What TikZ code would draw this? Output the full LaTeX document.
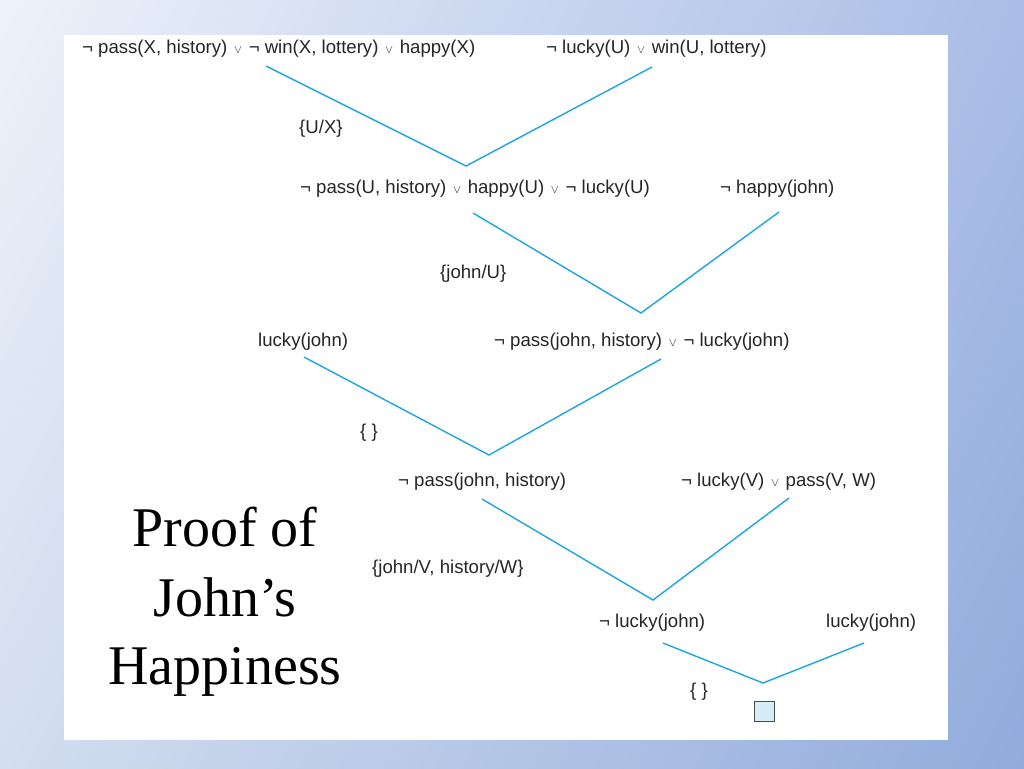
\documentclass[tikz,border=0pt]{standalone}
\usepackage{fontspec}
\setmainfont{Liberation Sans}
\newfontfamily\titlefont{Liberation Serif}
\usepackage{tikz}
\usetikzlibrary{shadings}

\definecolor{linkblue}{RGB}{28,166,224}
\definecolor{boxblue}{RGB}{214,236,248}
\definecolor{bgtl}{RGB}{238,242,250}
\definecolor{bgtr}{RGB}{169,189,230}
\definecolor{bgbl}{RGB}{211,222,239}
\definecolor{bgbr}{RGB}{146,171,220}

\newcommand{\orsym}{\kern1.5pt{\fontsize{13}{13}\selectfont$\vee$}\kern1.5pt}

\begin{document}
\begin{tikzpicture}[x=1pt,y=-1pt,
    clause/.style={font=\fontsize{18.6}{22}\selectfont, inner sep=0pt, anchor=base west, text=black!85},
    link/.style={linkblue, line width=1.4pt},
    title/.style={font=\titlefont\fontsize{56}{66}\selectfont, inner sep=0pt, anchor=base}]

    % background
    \shade[upper left=bgtl, upper right=bgtr, lower left=bgbl, lower right=bgbr] (0,0) rectangle (1024,768);
    \fill[white] (64,35) rectangle (948,740);
    \useasboundingbox (0,0) rectangle (1024,768);

    % level 1
    \node[clause] (c1) at (82,54) {¬ pass(X, history) \orsym{} ¬ win(X, lottery) \orsym{} happy(X)};
    \node[clause] (c2) at (546,54) {¬ lucky(U) \orsym{} win(U, lottery)};
    \coordinate (c1d) at (266,66);
    \coordinate (c2d) at (652,67);
    \coordinate (r1) at (466,166);
    \draw[link] (c1d) -- (r1) -- (c2d);
    \node[clause] (s1) at (299,133) {\{U/X\}};

    % level 2
    \node[clause] (c3) at (300,193) {¬ pass(U, history) \orsym{} happy(U) \orsym{} ¬ lucky(U)};
    \node[clause] (c4) at (720,193) {¬ happy(john)};
    \coordinate (c3d) at (473,213);
    \coordinate (c4d) at (779,212);
    \coordinate (r2) at (641,313);
    \draw[link] (c3d) -- (r2) -- (c4d);
    \node[clause] (s2) at (440,278) {\{john/U\}};

    % level 3
    \node[clause] (c5) at (258,346) {lucky(john)};
    \node[clause] (c6) at (494,346) {¬ pass(john, history) \orsym{} ¬ lucky(john)};
    \coordinate (c5d) at (304,357);
    \coordinate (c6d) at (661,359);
    \coordinate (r3) at (489,455);
    \draw[link] (c5d) -- (r3) -- (c6d);
    \node[clause] (s3) at (360,437) {\{ \}};

    % level 4
    \node[clause] (c7) at (398,486) {¬ pass(john, history)};
    \node[clause] (c8) at (681,486) {¬ lucky(V) \orsym{} pass(V, W)};
    \coordinate (c7d) at (482,499);
    \coordinate (c8d) at (789,498);
    \coordinate (r4) at (653,600);
    \draw[link] (c7d) -- (r4) -- (c8d);
    \node[clause] (s4) at (372,573) {\{john/V, history/W\}};

    % level 5
    \node[clause] (c9) at (599,627) {¬ lucky(john)};
    \node[clause] (c10) at (826,627) {lucky(john)};
    \coordinate (c9d) at (663,643);
    \coordinate (c10d) at (864,643);
    \coordinate (r5) at (763,683);
    \draw[link] (c9d) -- (r5) -- (c10d);
    \node[clause] (s5) at (690,696) {\{ \}};
    % empty clause
    \node[draw=black!70, fill=boxblue, line width=0.8pt, minimum size=20pt, inner sep=0pt] (empty) at (764.5,711) {};

    % title
    \node[title] (t1) at (225,546) {Proof of};
    \node[title] (t2) at (225,616) {John’s};
    \node[title] (t3) at (225,684) {Happiness};
\end{tikzpicture}
\end{document}
